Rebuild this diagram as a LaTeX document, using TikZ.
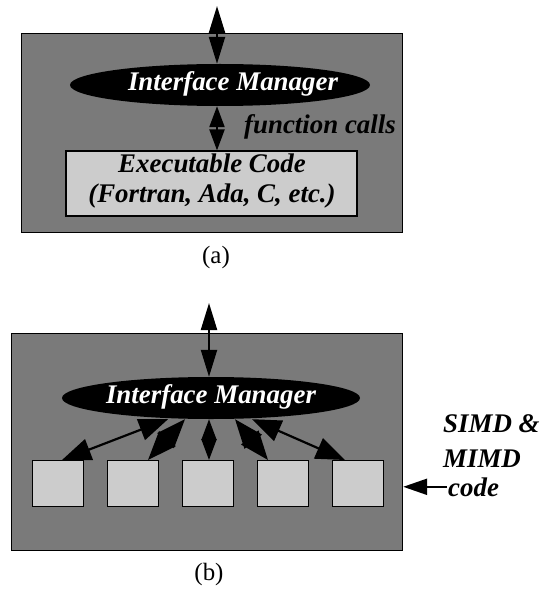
\documentclass[tikz,border=0pt]{standalone}
\usepackage{fontspec}
\setmainfont{Liberation Serif}[
  UprightFont    = {Liberation Serif},
  BoldFont       = {Liberation Serif Bold},
  ItalicFont     = {Liberation Serif Italic},
  BoldItalicFont = {Liberation Serif Bold Italic}]
\usetikzlibrary{arrows.meta,shapes.geometric}
\definecolor{slate}{gray}{0.48}
\definecolor{pane}{gray}{0.80}
\tikzset{
  panel/.style={draw=black, line width=1.2bp, fill=slate, inner sep=0pt, anchor=north west},
  manager/.style={ellipse, fill=black, inner sep=0pt},
  mgrtext/.style={text=white, inner sep=0pt, font=\fontsize{27}{30}\selectfont\bfseries\itshape},
  codebox/.style={draw=black, line width=1.2bp, fill=pane, inner sep=0pt},
  bolditalic/.style={inner sep=0pt, font=\fontsize{27}{30}\selectfont\bfseries\itshape},
  caption/.style={inner sep=0pt, font=\fontsize{25}{28}\selectfont},
  thinlink/.style={line width=2.2bp, {Triangle[length=27bp,width=16bp]}-{Triangle[length=27bp,width=16bp]}},
  link/.style={line width=2.2bp, {Triangle[length=29bp,width=22bp]}-{Triangle[length=29bp,width=22bp]}},
  shortlink/.style={line width=2.2bp, {Triangle[length=21bp,width=15bp]}-{Triangle[length=21bp,width=15bp]}},
}
\begin{document}
\begin{tikzpicture}[x=1bp,y=-1bp]
\useasboundingbox (0,0) rectangle (544,591);

% ---------- (a) single executable behind the interface manager ----------
\node[panel, minimum width=381bp, minimum height=199bp] (sysA) at (21,33) {};
\node[manager, minimum width=300bp, minimum height=42bp] (imA) at (220,85) {};
\node[mgrtext] (imAtext) at (233,84) {Interface Manager};
\node[codebox, minimum width=291bp, minimum height=65bp] (exec) at (211.5,183.5) {};
\node[bolditalic, align=center] (execText) at (212,181) {Executable Code\\(Fortran, Ada, C, etc.)};
\node[bolditalic] (calls) at (320,127) {function calls};
\coordinate (extA) at (217,6);
\draw[thinlink] (extA) -- (extA |- imA.north);
\draw[shortlink] (extA |- imA.south) -- (extA |- exec.north);
\node[caption] (capA) at (216,258) {(a)};

% ---------- (b) interface manager driving parallel code blocks ----------
\node[panel, minimum width=391bp, minimum height=217bp] (sysB) at (11,333) {};
\node[manager, minimum width=298bp, minimum height=42bp] (imB) at (211,398) {};
\node[mgrtext] (imBtext) at (211,397) {Interface Manager};
\foreach \i/\x in {1/58,2/133,3/208,4/283,5/358}{
  \node[codebox, minimum width=51bp, minimum height=46bp, anchor=north] (p\i) at (\x,460) {};
}
\coordinate (extB) at (209,303);
\draw[thinlink] (extB) -- (extB |- imB.north);
\draw[link] ([xshift=-43bp]imB.south) -- ([xshift=4bp]p1.north);
\draw[link] ([xshift=-26bp]imB.south) -- ([xshift=15bp]p2.north);
\draw[shortlink] (extB |- imB.south) -- (extB |- p3.north);
\draw[link] ([xshift=24bp]imB.south) -- ([xshift=-15bp]p4.north);
\draw[link] ([xshift=41bp]imB.south) -- ([xshift=-13bp]p5.north);

\node[bolditalic, anchor=base west] (simd) at (443,432) {SIMD \&};
\node[bolditalic, anchor=base west] (mimd) at (443,467) {MIMD};
\node[bolditalic, anchor=base west, inner sep=1bp] (codeLbl) at (447,496) {code};
\draw[line width=2.2bp, -{Triangle[length=24bp,width=16bp]}] (codeLbl.west) -- (codeLbl.west -| sysB.east);
\node[caption] (capB) at (209,575) {(b)};
\end{tikzpicture}
\end{document}
